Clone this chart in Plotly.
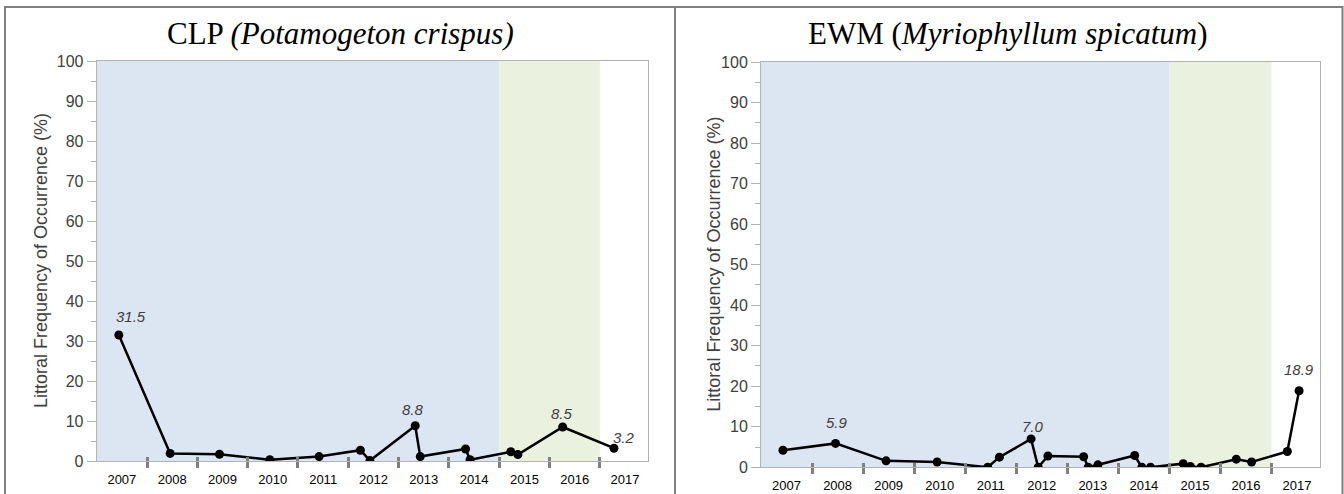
import plotly.graph_objects as go

W, H = 1344, 494

# ---------------- data ----------------
clp_x = [2007.44, 2008.46, 2009.44, 2010.44, 2011.42, 2012.24, 2012.43, 2013.33,
         2013.43, 2014.33, 2014.42, 2015.23, 2015.37, 2016.26, 2017.28]
clp_y = [31.5, 1.9, 1.7, 0.3, 1.1, 2.7, 0.1, 8.8, 1.1, 3.0, 0.3, 2.3, 1.6, 8.5, 3.2]
clp_labels = [0, 7, 13, 14]

ewm_x = [2007.43, 2008.46, 2009.45, 2010.45, 2011.44, 2011.67, 2012.29, 2012.43,
         2012.62, 2013.32, 2013.41, 2013.60, 2014.32, 2014.46, 2014.63, 2015.27,
         2015.41, 2015.62, 2016.31, 2016.61, 2017.31, 2017.54]
ewm_y = [4.2, 5.9, 1.6, 1.3, 0.0, 2.5, 7.0, 0.0, 2.8, 2.6, 0.0, 0.6, 2.9, 0.0,
         0.0, 0.9, 0.2, 0.0, 2.0, 1.3, 3.9, 18.9]
ewm_labels = [1, 6, 21]

years = list(range(2007, 2018))
band_blue = (2007, 2015)
band_green = (2015, 2017)
y_ticks = list(range(0, 101, 10))

# ---------------- style ----------------
BLUE = "#dce6f2"
GREEN = "#ebf1df"
AXGRAY = "#b3b3b3"
TICKGRAY = "#808080"
TXT = "#404040"
SANS = "Liberation Sans, Arial, sans-serif"
SERIF = "Liberation Serif, Times New Roman, serif"


def px_x(p):
    return p / W


def px_y(p):
    return 1 - p / H


fig = go.Figure()

panels = [
    dict(x=clp_x, y=clp_y, lab=clp_labels, xa="x", ya="y",
         xdom=(96.7, 647.7), ydom=(461, 61),
         shifts={0: (12, 19), 7: (-2, 16), 13: (-1, 14), 14: (10, 11)},
         title="CLP <i>(Potamogeton crispus)</i>", tx=340, ytx=41),
    dict(x=ewm_x, y=ewm_y, lab=ewm_labels, xa="x2", ya="y2",
         xdom=(761, 1320), ydom=(467.3, 62),
         shifts={1: (1, 21), 6: (2, 12), 21: (0, 21)},
         title="EWM (<i>Myriophyllum spicatum</i>)", tx=1008, ytx=714),
]

mids = [y + 0.5 for y in years]
bounds = years[1:]

for i, p in enumerate(panels):
    n = "" if i == 0 else str(i + 1)
    fig.add_trace(go.Scatter(
        x=p["x"], y=p["y"], mode="lines+markers", xaxis=p["xa"], yaxis=p["ya"],
        line=dict(color="black", width=2.5),
        marker=dict(color="black", size=9),
        showlegend=False, hoverinfo="skip"))

    xr = [years[0], years[-1] + 0.95]
    fig.update_layout(**{
        "xaxis" + n: dict(
            domain=[px_x(p["xdom"][0]), px_x(p["xdom"][1])],
            anchor="y" + n, range=xr, automargin=False,
            tickmode="array", tickvals=mids, ticktext=[str(y) for y in years],
            ticks="outside", ticklen=6, tickcolor="rgba(0,0,0,0)",
            tickfont=dict(family=SANS, size=13, color="#000000"),
            showline=True, linecolor=AXGRAY, linewidth=1, mirror=True,
            showgrid=False, zeroline=False,
            minor=dict(tickmode="array", tickvals=bounds, ticks="outside",
                       ticklen=6, tickwidth=2.5, tickcolor=TICKGRAY,
                       showgrid=False),
        ),
        "yaxis" + n: dict(
            domain=[px_y(p["ydom"][0]), px_y(p["ydom"][1])],
            anchor="x" + n, range=[0, 100], automargin=False,
            tickmode="array", tickvals=y_ticks,
            ticks="outside", ticklen=9, tickcolor=AXGRAY, tickwidth=1,
            tickfont=dict(family=SANS, size=16, color=TXT),
            showline=True, linecolor=AXGRAY, linewidth=1, mirror=True,
            showgrid=False, zeroline=False,
            minor=dict(dtick=5, tick0=0, ticks="outside", ticklen=5,
                       tickcolor=AXGRAY, showgrid=False),
        ),
    })

    # bands
    for band, col in ((band_blue, BLUE), (band_green, GREEN)):
        fig.add_shape(type="rect", xref=p["xa"], yref=p["ya"] + " domain",
                      x0=band[0], x1=band[1], y0=0, y1=1,
                      fillcolor=col, line_width=0, layer="below")

    # upward part of the year-boundary ticks (overlay axis)
    k = str(i + 3)
    fig.update_layout(**{
        "xaxis" + k: dict(
            overlaying=p["xa"], anchor=p["ya"], side="bottom", range=xr,
            domain=[px_x(p["xdom"][0]), px_x(p["xdom"][1])], automargin=False,
            tickmode="array", tickvals=bounds, ticks="inside", ticklen=4,
            tickwidth=2.5, tickcolor=TICKGRAY, showticklabels=False,
            showline=False, showgrid=False, zeroline=False),
    })
    fig.add_trace(go.Scatter(x=[None], y=[None], xaxis="x" + k, yaxis=p["ya"],
                             showlegend=False, hoverinfo="skip"))

    # data labels
    for j in p["lab"]:
        dx, dy = p["shifts"][j]
        fig.add_annotation(x=p["x"][j], y=p["y"][j], xref=p["xa"], yref=p["ya"],
                           text=f"<i>{p['y'][j]:.1f}</i>", showarrow=False,
                           xshift=dx, yshift=dy,
                           font=dict(family=SANS, size=15, color=TXT))

    # title
    fig.add_annotation(x=px_x(p["tx"]), y=px_y(33), xref="paper", yref="paper",
                       text=p["title"], showarrow=False, xanchor="center",
                       yanchor="middle",
                       font=dict(family=SERIF, size=31, color="black"))

    # y axis title
    cy = (p["ydom"][0] + p["ydom"][1]) / 2
    fig.add_annotation(x=px_x(p["ytx"]), y=px_y(cy),
                       xref="paper", yref="paper",
                       text="Littoral Frequency of Occurrence (%)",
                       textangle=-90, showarrow=False,
                       xanchor="center", yanchor="middle",
                       font=dict(family=SANS, size=18, color=TXT))

# panel frames
for x0, x1 in ((5, 675), (675, 1342.5)):
    fig.add_shape(type="rect", xref="paper", yref="paper",
                  x0=px_x(x0), x1=px_x(x1), y0=-0.2, y1=px_y(7),
                  line=dict(color="#7f7f7f", width=2), fillcolor="rgba(0,0,0,0)")

fig.update_layout(width=W, height=H, margin=dict(l=0, r=0, t=0, b=0, autoexpand=False),
                  paper_bgcolor="white", plot_bgcolor="white")

fig.write_html(
    "out.html",
    config={"displayModeBar": False},
    post_script=(
        "document.documentElement.style.margin='0';"
        "document.documentElement.style.overflow='hidden';"
        "document.body.style.margin='0';"
        "document.body.style.padding='0';"
        "document.body.style.overflow='hidden';"
        "var d=document.getElementById('{plot_id}');"
        "d.style.position='fixed';d.style.top='0px';d.style.left='0px';"
    ),
)
